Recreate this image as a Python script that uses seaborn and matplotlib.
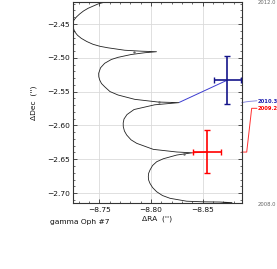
import numpy as np
import pandas as pd
import matplotlib
matplotlib.use("Agg")
import matplotlib.pyplot as plt
from matplotlib.ticker import MultipleLocator, FuncFormatter
import seaborn as sns

# ---- data (arcsec) ----
track_ra = [-8.8551, -8.8687, -8.8783, -8.8667, -8.8503, -8.8345, -8.8184, -8.8111,
            -8.8055, -8.8015, -8.7990, -8.7977, -8.7974, -8.7977, -8.7990, -8.8015,
            -8.8055, -8.8119, -8.8249, -8.8397, -8.8249, -8.8022, -8.7862, -8.7807,
            -8.7765, -8.7743, -8.7732, -8.7731, -8.7739, -8.7768, -8.7836, -8.8036,
            -8.8271, -8.8068, -8.7842, -8.7681, -8.7603, -8.7552, -8.7521, -8.7504,
            -8.7495, -8.7494, -8.7512, -8.7552, -8.7616, -8.7681, -8.7809, -8.7939,
            -8.8053, -8.7906, -8.7746, -8.7584, -8.7507, -8.7439, -8.7379, -8.7326,
            -8.7289, -8.7262, -8.7250, -8.7246, -8.7248, -8.7255, -8.7279, -8.7310,
            -8.7347, -8.7391, -8.7487, -8.7584, -8.7749, -8.7942]
track_dec = [-2.7160, -2.7152, -2.7142, -2.7133, -2.7130, -2.7121, -2.7078, -2.7037,
             -2.6981, -2.6919, -2.6857, -2.6808, -2.6759, -2.6709, -2.6660, -2.6593,
             -2.6537, -2.6493, -2.6438, -2.6405, -2.6393, -2.6354, -2.6265, -2.6213,
             -2.6142, -2.6083, -2.6019, -2.5965, -2.5905, -2.5839, -2.5765, -2.5695,
             -2.5663, -2.5654, -2.5614, -2.5550, -2.5499, -2.5428, -2.5380, -2.5328,
             -2.5280, -2.5229, -2.5148, -2.5081, -2.5025, -2.4993, -2.4951, -2.4925,
             -2.4910, -2.4902, -2.4888, -2.4852, -2.4830, -2.4800, -2.4759, -2.4712,
             -2.4666, -2.4614, -2.4564, -2.4515, -2.4475, -2.4441, -2.4396, -2.4352,
             -2.4308, -2.4268, -2.4204, -2.4163, -2.4123, -2.4108]

obs_ra = [-8.7836, -8.8077, -8.8319]
obs_dec = [-2.4919, -2.5658, -2.6416]

meas_epoch = ["2010.3", "2009.2"]
meas_ra = [-8.8738, -8.8542]
meas_dec = [-2.5330, -2.6393]
meas_ra_err = [0.0130, 0.0135]
meas_dec_err = [0.0350, 0.0318]
model_ra = [-8.8275, -8.8397]
model_dec = [-2.5658, -2.6405]
meas_colors = ["#14148a", "#ff0000"]
link_colors = ["#3c3cd0", "#ff2020"]
label_colors = ["#2020b0", "#ff0000"]
leader_colors = ["#8c8ce0", "#ff3030"]

track_start, track_end = "2008.0", "2012.0"
track_start_dec, track_end_dec = -2.7163, -2.4175

title = "gamma Oph #7"

# ---- plot ----
sns.set_theme(style="ticks")
plt.rcParams["font.family"] = ["DejaVu Sans"]
fs = 5.4

fig = plt.figure(figsize=(2.77, 2.69), dpi=100)
ax = fig.add_axes([0.2625, 0.2442, 0.8726 - 0.2625, 0.9937 - 0.2442])

df = pd.DataFrame({"ra": track_ra, "dec": track_dec})
sns.lineplot(data=df, x="ra", y="dec", sort=False, estimator=None, ax=ax,
             color="#222222", linewidth=0.6, solid_joinstyle="round")
sns.scatterplot(x=obs_ra, y=obs_dec, ax=ax, color="#666666", s=3, linewidth=0, zorder=3)

for i in range(len(meas_ra)):
    ax.plot([model_ra[i], meas_ra[i]], [model_dec[i], meas_dec[i]],
            color=link_colors[i], lw=0.7, zorder=3)
    ax.errorbar(meas_ra[i], meas_dec[i], xerr=meas_ra_err[i], yerr=meas_dec_err[i],
                fmt="none", ecolor=meas_colors[i], elinewidth=1.2, capsize=2.0,
                capthick=1.0, zorder=4, clip_on=False)

ax.set_xlim(-8.7243, -8.8877)
ax.set_ylim(-2.7152, -2.4170)
fmt = FuncFormatter(lambda v, p: f"{v:.2f}".replace("-", "\u2212"))
ax.xaxis.set_major_locator(MultipleLocator(0.05))
ax.xaxis.set_minor_locator(MultipleLocator(0.01))
ax.yaxis.set_major_locator(MultipleLocator(0.05))
ax.yaxis.set_minor_locator(MultipleLocator(0.01))
ax.xaxis.set_major_formatter(fmt)
ax.yaxis.set_major_formatter(fmt)
ax.tick_params(which="both", direction="in", top=True, right=True, colors="#333333",
               labelsize=fs, labelcolor="#111111")
ax.tick_params(axis="x", pad=3)
ax.tick_params(axis="y", pad=2)
ax.tick_params(which="major", length=3, width=0.6)
ax.tick_params(which="minor", length=1.6, width=0.5)
ax.grid(True, which="major", color="#dadada", lw=0.6)
ax.set_axisbelow(True)
for s in ax.spines.values():
    s.set_color("#333333")
    s.set_linewidth(0.8)

ax.set_xlabel("\u0394RA  ('')", fontsize=fs, labelpad=1.5, color="#111111")
ax.set_ylabel("\u0394Dec  ('')", fontsize=fs, labelpad=7, color="#111111")
fig.text(50 / 277, 1 - 222 / 269, title, fontsize=fs, va="center", ha="left", color="#111111")

ty = ax.get_yaxis_transform()
ax.text(1.096, track_end_dec, track_end, transform=ty, fontsize=3.8, color="#666666",
        va="center", ha="left", clip_on=False)
ax.text(1.096, track_start_dec, track_start, transform=ty, fontsize=3.8, color="#666666",
        va="center", ha="left", clip_on=False)

# leaders to the epoch labels
ax.plot([1.0, 1.0296, 1.09], [-2.5664, -2.5649, -2.5635], transform=ty,
        color=leader_colors[0], lw=0.7, clip_on=False)
ax.text(1.096, -2.5640, meas_epoch[0], transform=ty, fontsize=3.8, color=label_colors[0],
        fontweight="bold", va="center", ha="left", clip_on=False)
ax.plot([1.0, 1.0296, 1.059, 1.09], [-2.6394, -2.6394, -2.5747, -2.5747], transform=ty,
        color=leader_colors[1], lw=0.7, clip_on=False)
ax.text(1.096, -2.5747, meas_epoch[1], transform=ty, fontsize=3.8, color=label_colors[1],
        fontweight="bold", va="center", ha="left", clip_on=False)

fig.savefig("out.png", dpi=100)
